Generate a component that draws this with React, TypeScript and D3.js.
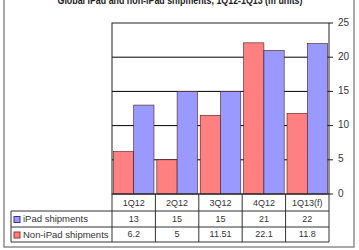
import React from "react";
import * as d3 from "d3";

const categories = ["1Q12", "2Q12", "3Q12", "4Q12", "1Q13(f)"];
const seriesNames = ["Non-iPad shipments", "iPad shipments"];
const nonIpad = [6.2, 5, 11.51, 22.1, 11.8];
const ipad = [13, 15, 15, 21, 22];
const nonIpadLabels = ["6.2", "5", "11.51", "22.1", "11.8"];
const ipadLabels = ["13", "15", "15", "21", "22"];
const yTicks = [0, 5, 10, 15, 20, 25];
const title = "Global iPad and non-iPad shipments, 1Q12-1Q13 (m units)";

const W = 359;
const H = 250;
const plotL = 112;
const plotR = 329;
const plotT = 23;
const plotB = 194;
const tableL = 11;
const rowH = [194, 211, 227, 242];
const RED = "#ff8080";
const BLUE = "#9999ff";
const FONT = "Liberation Sans, Arial, sans-serif";

export default function App() {
  const x = d3.scaleBand<string>().domain(categories).range([plotL, plotR]).paddingInner(0).paddingOuter(0);
  const inner = d3.scaleBand<string>().domain(seriesNames).range([0, x.bandwidth()]).paddingOuter(0.07).paddingInner(0);
  const y = d3.scaleLinear().domain([0, 25]).range([plotB, plotT]);
  const series = [
    { name: seriesNames[0], values: nonIpad, color: RED },
    { name: seriesNames[1], values: ipad, color: BLUE },
  ];
  const rows = [
    { name: "iPad shipments", labels: ipadLabels, color: BLUE, stroke: "#333399" },
    { name: "Non-iPad shipments", labels: nonIpadLabels, color: RED, stroke: "#993333" },
  ];
  const colEdges = [...categories.map((c) => x(c)!), plotR];
  return (
    <svg width={W} height={H} style={{ position: "absolute", left: 0, top: 0, background: "#fff" }} fontFamily={FONT}>
      <rect x={4} y={-10} width={350} height={257} fill="#fff" stroke="#8c8c8c" strokeWidth={1.5} />
      <text x={180} y={4} textAnchor="middle" fontWeight="bold" fontSize={10} textLength={245} lengthAdjust="spacingAndGlyphs" fill="#222">
        {title}
      </text>
      {/* gridlines */}
      {yTicks.filter((t) => t > 0 && t < 25).map((t) => (
        <line key={t} x1={plotL} x2={plotR} y1={y(t)} y2={y(t)} stroke="#000" strokeWidth={1} />
      ))}
      {/* bars */}
      {series.map((s) =>
        categories.map((c, i) => (
          <rect
            key={s.name + c}
            x={x(c)! + inner(s.name)!}
            y={y(s.values[i])}
            width={inner.bandwidth()}
            height={plotB - y(s.values[i])}
            fill={s.color}
            stroke="#4a1a1a"
            strokeWidth={0.6}
          />
        ))
      )}
      {/* plot border */}
      <rect x={plotL} y={plotT} width={plotR - plotL} height={plotB - plotT} fill="none" stroke="#222" strokeWidth={1} />
      {/* right axis */}
      {yTicks.map((t) => (
        <g key={t}>
          <line x1={plotR} x2={plotR + 4} y1={y(t)} y2={y(t)} stroke="#222" />
          <text x={338} y={y(t)} fontSize={10} fill="#333" dominantBaseline="middle">
            {t}
          </text>
        </g>
      ))}
      {/* table */}
      {colEdges.map((cx, i) => (
        <line key={i} x1={cx} x2={cx} y1={rowH[0]} y2={rowH[3]} stroke="#333" />
      ))}
      <line x1={plotL} x2={plotR} y1={rowH[0]} y2={rowH[0]} stroke="#333" />
      {rowH.slice(1).map((ry, i) => (
        <line key={i} x1={tableL} x2={plotR} y1={ry} y2={ry} stroke="#333" />
      ))}
      <line x1={tableL} x2={tableL} y1={rowH[1]} y2={rowH[3]} stroke="#333" />
      {categories.map((c) => (
        <text key={c} x={x(c)! + x.bandwidth() / 2} y={(rowH[0] + rowH[1]) / 2 + 1} textAnchor="middle" dominantBaseline="middle" fontSize={9} fill="#333">
          {c}
        </text>
      ))}
      {rows.map((r, ri) => {
        const cy = (rowH[ri + 1] + rowH[ri + 2]) / 2 + 0.5;
        return (
          <g key={r.name}>
            <rect x={14} y={cy - 3} width={6} height={6} fill={r.color} stroke={r.stroke} strokeWidth={1} />
            <text x={23} y={cy} dominantBaseline="middle" fontSize={9.5} fill="#333">
              {r.name}
            </text>
            {categories.map((c, i) => (
              <text key={c} x={x(c)! + x.bandwidth() / 2} y={cy} textAnchor="middle" dominantBaseline="middle" fontSize={9} fill="#333">
                {r.labels[i]}
              </text>
            ))}
          </g>
        );
      })}
    </svg>
  );
}
